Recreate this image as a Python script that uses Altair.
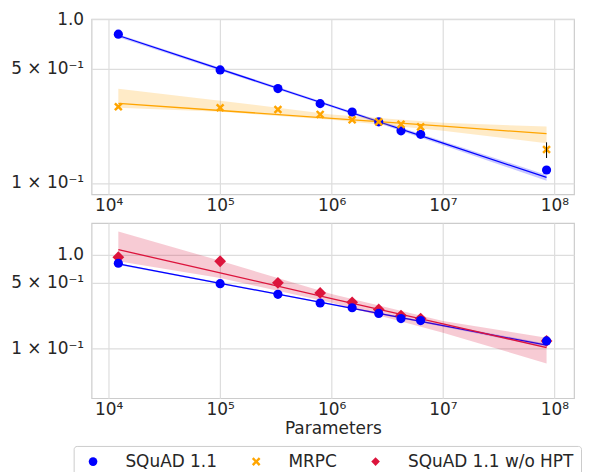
import altair as alt
import pandas as pd

# ---- data ----
params = [1.22e4, 1.0e5, 3.3e5, 7.9e5, 1.53e6, 2.65e6, 4.2e6, 6.3e6, 8.5e7]
squad = [0.81, 0.49, 0.377, 0.305, 0.271, 0.236, 0.208, 0.198, 0.120]
mrpc = [0.292, 0.288, 0.281, 0.262, 0.243, 0.236, 0.228, 0.220, 0.160]
squad_nohpt = [0.94, 0.85, 0.50, 0.39, 0.31, 0.26, 0.224, 0.208, 0.120]
mrpc_err_lo = [0.142]
mrpc_err_hi = [0.177]
mrpc_err_x = [8.5e7]

# fitted power laws and their confidence bands, read at these sizes
fit_x = [1.22e4, 1e5, 1e6, 1e7, 8.5e7]
squad_fit = [0.795, 0.495, 0.295, 0.175, 0.108]
squad_lo = [0.775, 0.485, 0.290, 0.170, 0.103]
squad_hi = [0.810, 0.505, 0.300, 0.180, 0.112]
mrpc_fit = [0.306, 0.277, 0.248, 0.222, 0.200]
mrpc_lo = [0.288, 0.272, 0.243, 0.208, 0.175]
mrpc_hi = [0.376, 0.318, 0.262, 0.233, 0.221]
nohpt_fit = [1.13, 0.64, 0.34, 0.182, 0.102]
nohpt_lo = [0.85, 0.565, 0.306, 0.147, 0.069]
nohpt_hi = [1.77, 0.86, 0.38, 0.196, 0.130]

series_names = ["SQuAD 1.1", "MRPC", "SQuAD 1.1 w/o HPT"]
colors = ["#0000ff", "#ffa500", "#dc143c"]
x_path = "M-1,-0.6L-0.6,-1L0,-0.4L0.6,-1L1,-0.6L0.4,0L1,0.6L0.6,1L0,0.4L-0.6,1L-1,0.6L-0.4,0Z"
shapes = ["circle", x_path, "diamond"]

FONT = "DejaVu Sans"
W, H = 485, 176

xscale = alt.Scale(type="log", domain=[7015, 1.5e8], nice=False, padding=0)
xaxis_kw = dict(
    values=[1e4, 1e5, 1e6, 1e7, 1e8],
    labelExpr="'10' + ['⁰','¹','²','³','⁴','⁵','⁶','⁷','⁸','⁹'][round(log(datum.value)/LN10)]",
)
yvals = [0.1, 0.5, 1.0]
ylabel = "datum.value > 0.9 ? '1.0' : (datum.value > 0.3 ? '5 × 10⁻¹' : '1 × 10⁻¹')"


def pts_df(vals, name):
    return pd.DataFrame({"x": params, "y": vals, "series": name})


def fit_df(fit, lo, hi):
    return pd.DataFrame({"x": fit_x, "fit": fit, "lo": lo, "hi": hi})


color_enc = alt.Color("series:N", scale=alt.Scale(domain=series_names, range=colors),
                      legend=alt.Legend(title=None))
shape_enc = alt.Shape("series:N", scale=alt.Scale(domain=series_names, range=shapes),
                      legend=alt.Legend(title=None))


def axes(show_x_title):
    xa = alt.Axis(title="Parameters" if show_x_title else None, **xaxis_kw)
    ya = alt.Axis(title=None, values=yvals, labelExpr=ylabel)
    return xa, ya


def band_layers(df, color, yscale, show_x_title=False):
    xa, ya = axes(show_x_title)
    base = alt.Chart(df)
    band = base.mark_area(color=color, opacity=0.22).encode(
        x=alt.X("x:Q", scale=xscale, axis=xa),
        y=alt.Y("lo:Q", scale=yscale, axis=ya),
        y2="hi:Q",
    )
    line = base.mark_line(color=color, strokeWidth=1.3).encode(
        x=alt.X("x:Q", scale=xscale, axis=xa),
        y=alt.Y("fit:Q", scale=yscale, axis=ya),
    )
    return band, line


def points(df, yscale, size, show_x_title=False):
    xa, ya = axes(show_x_title)
    return alt.Chart(df).mark_point(filled=True, opacity=1, size=size).encode(
        x=alt.X("x:Q", scale=xscale, axis=xa),
        y=alt.Y("y:Q", scale=yscale, axis=ya),
        color=color_enc,
        shape=shape_enc,
    )


# ---- top panel ----
ys_top = alt.Scale(type="log", domain=[0.0853, 1.0], nice=False, padding=0)
b1, l1 = band_layers(fit_df(squad_fit, squad_lo, squad_hi), colors[0], ys_top)
b2, l2 = band_layers(fit_df(mrpc_fit, mrpc_lo, mrpc_hi), colors[1], ys_top)
p1 = points(pts_df(squad, series_names[0]), ys_top, 85)
p2 = points(pts_df(mrpc, series_names[1]), ys_top, 75)
err = alt.Chart(pd.DataFrame({"x": mrpc_err_x, "lo": mrpc_err_lo, "hi": mrpc_err_hi})).mark_rule(
    color="black", strokeWidth=1).encode(
    x=alt.X("x:Q", scale=xscale), y=alt.Y("lo:Q", scale=ys_top), y2="hi:Q")
top = alt.layer(b1, l1, b2, l2, p1, p2, err).properties(width=W, height=H)

# ---- bottom panel ----
ys_bot = alt.Scale(type="log", domain=[0.0294, 2.17], nice=False, padding=0)
b3, l3 = band_layers(fit_df(squad_fit, squad_lo, squad_hi), colors[0], ys_bot, True)
b4, l4 = band_layers(fit_df(nohpt_fit, nohpt_lo, nohpt_hi), colors[2], ys_bot, True)
p3 = points(pts_df(squad_nohpt, series_names[2]), ys_bot, 140, True)
p4 = points(pts_df(squad, series_names[0]), ys_bot, 85, True)
bottom = alt.layer(b3, l3, b4, l4, p3, p4).properties(width=W, height=H)

chart = alt.vconcat(top, bottom, spacing=8).resolve_scale(y="independent").properties(
    padding={"left": 2, "top": 0, "right": 0, "bottom": 0}
).configure_view(stroke="#cccccc", strokeWidth=1.2).configure_axis(
    domain=False, ticks=False, grid=True, gridColor="#dddddd", gridWidth=1.2,
    labelFont=FONT, labelFontSize=17, labelColor="#262626",
    titleFont=FONT, titleFontSize=17, titleColor="#262626", titleFontWeight="normal",
    titlePadding=3,
).configure_axisX(labelPadding=3).configure_axisY(
    minExtent=75, maxExtent=75, labelPadding=8
).configure_legend(
    orient="none", legendX=-18, legendY=429, direction="horizontal",
    labelFont=FONT, labelFontSize=17, labelColor="#262626", labelLimit=300,
    strokeColor="#cccccc", padding=7, cornerRadius=3, symbolSize=75,
    symbolOffset=4, labelOffset=24, columnPadding=26, symbolStrokeWidth=0,
)

chart.save("out.html", embed_options={"renderer": "svg", "actions": False})
